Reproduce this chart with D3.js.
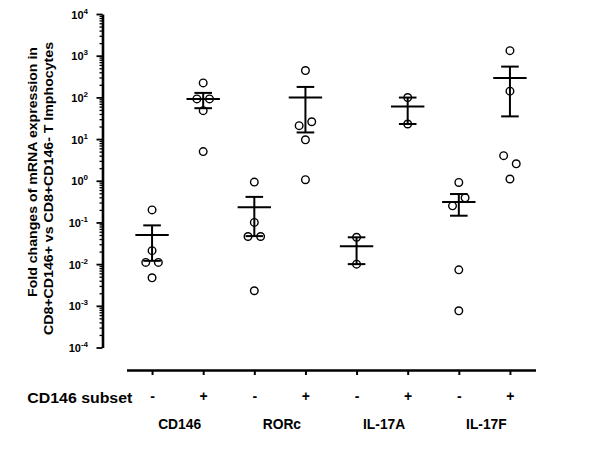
<!DOCTYPE html>
<meta charset="utf-8">
<style>
    body { margin: 0; background: #fff; }
    svg { font-family: "Liberation Sans", Arial, sans-serif; font-weight: bold; }
    .axis path, .axis line { stroke: #000; }
    .axis text { fill: #000; font-family: "Liberation Sans", Arial, sans-serif; font-weight: bold; }
    .dot { fill: none; stroke: #000; stroke-width: 1.4px; }
    .bar { stroke: #000; stroke-width: 2px; }
</style>
<body>
<script src="https://d3js.org/d3.v7.min.js"></script>
<script>
    // genes, subsets and one cell per (gene, subset)
    var groups = ["CD146", "RORc", "IL-17A", "IL-17F"];
    var subsets = ["-", "+"];

    // fold changes per cell
    var cd146Neg = [0.20, 0.021, 0.011, 0.011, 0.0047];
    var cd146Pos = [222, 92, 92, 48, 5.0];
    var rorcNeg = [0.93, 0.10, 0.046, 0.046, 0.0023];
    var rorcPos = [440, 21, 26, 9.6, 1.06];
    var il17aNeg = [0.044, 0.010];
    var il17aPos = [99, 23];
    var il17fNeg = [0.91, 0.25, 0.39, 0.0073, 0.00076];
    var il17fPos = [1320, 141, 4.0, 2.55, 1.1];

    // mean and SEM bounds per cell
    var means = [0.050, 92, 0.23, 99, 0.027, 60, 0.31, 293];
    var semLow = [0.012, 55, 0.047, 14.4, 0.010, 23, 0.145, 35];
    var semHigh = [0.085, 128, 0.41, 178, 0.044, 99, 0.48, 547];

    var yTickExps = [-4, -3, -2, -1, 0, 1, 2, 3, 4];

    var width = 601,
        height = 459;

    var cellValues = [cd146Neg, cd146Pos, rorcNeg, rorcPos, il17aNeg, il17aPos, il17fNeg, il17fPos];
    var cells = [];
    groups.forEach(function (g) {
        subsets.forEach(function (s) { cells.push(g + " " + s); });
    });

    var svg = d3.select("body").append("svg")
        .attr("width", width)
        .attr("height", height);

    var x = d3.scalePoint()
        .domain(cells)
        .range([126.5, 535.5])
        .padding(0.5);

    var y = d3.scaleLog()
        .domain([1e-4, 1e4])
        .range([347.5, 14]);

    // y axis: major decades + minor ticks
    var majors = yTickExps.map(function (e) { return Math.pow(10, e); });
    var minors = [];
    yTickExps.slice(0, -1).forEach(function (e) {
        for (var k = 2; k < 10; k++) minors.push(k * Math.pow(10, e));
    });

    var yAxisX = 102.5;
    svg.append("g")
        .attr("class", "axis")
        .attr("transform", "translate(" + yAxisX + ",0)")
        .call(d3.axisLeft(y).tickValues(minors).tickSize(3).tickSizeOuter(0).tickFormat(""))
        .call(function (g) {
            g.select(".domain").remove();
            g.selectAll("line").attr("stroke-width", 1.3);
        });

    svg.append("g")
        .attr("class", "axis")
        .attr("transform", "translate(" + yAxisX + ",0)")
        .call(d3.axisLeft(y).tickValues(majors).tickSize(6).tickSizeOuter(0).tickFormat(""))
        .call(function (g) {
            g.select(".domain").attr("stroke-width", 2.6);
            g.selectAll("line").attr("stroke-width", 1.8);
        });

    var yLab = svg.append("g")
        .selectAll("text")
        .data(yTickExps)
        .enter().append("text")
        .attr("x", 88)
        .attr("y", function (d) { return y(Math.pow(10, d)) + 4.5; })
        .attr("text-anchor", "end")
        .attr("font-size", 11);
    yLab.append("tspan").text("10");
    yLab.append("tspan")
        .attr("dy", -5)
        .attr("font-size", 8)
        .text(function (d) { return String(d); });

    // y title
    svg.append("text")
        .attr("transform", "translate(32,172) rotate(-90)")
        .attr("dy", "0.35em")
        .attr("text-anchor", "middle")
        .attr("font-size", 13)
        .attr("textLength", 250)
        .attr("lengthAdjust", "spacingAndGlyphs")
        .text("Fold changes of mRNA  expression in");
    svg.append("text")
        .attr("transform", "translate(48.5,188.5) rotate(-90)")
        .attr("dy", "0.35em")
        .attr("text-anchor", "middle")
        .attr("font-size", 13)
        .attr("textLength", 293)
        .attr("lengthAdjust", "spacingAndGlyphs")
        .text("CD8+CD146+ vs CD8+CD146- T lmphocytes");

    // bottom axis with the subset signs
    svg.append("g")
        .attr("class", "axis")
        .attr("transform", "translate(0,370)")
        .call(d3.axisBottom(x).tickSize(5).tickSizeOuter(0).tickPadding(16)
            .tickFormat(function (d) { return d.split(" ")[1]; }))
        .call(function (g) {
            g.select(".domain").attr("stroke-width", 2.6);
            g.selectAll("line").attr("stroke-width", 2);
            g.selectAll("text").attr("font-size", 14);
        });

    svg.append("text")
        .attr("x", 27.3)
        .attr("y", 402.5)
        .attr("font-size", 14)
        .attr("textLength", 105)
        .attr("lengthAdjust", "spacingAndGlyphs")
        .text("CD146 subset");

    svg.append("g")
        .selectAll("text")
        .data(groups)
        .enter().append("text")
        .attr("x", function (g) { return (x(g + " -") + x(g + " +")) / 2 + 2; })
        .attr("y", 428.5)
        .attr("text-anchor", "middle")
        .attr("font-size", 13.8)
        .text(function (g) { return g; });

    // simple beeswarm: points closer than one diameter share a row
    var rowGap = 9, spread = 12.6;
    function swarm(vals) {
        var idx = vals.map(function (v, i) { return i; })
            .sort(function (a, b) { return y(vals[a]) - y(vals[b]); });
        var rows = [], row = [];
        idx.forEach(function (i) {
            if (row.length && y(vals[i]) - y(vals[row[row.length - 1]]) >= rowGap) {
                rows.push(row); row = [];
            }
            row.push(i);
        });
        if (row.length) rows.push(row);
        var off = [];
        rows.forEach(function (r) {
            r.sort(function (a, b) { return a - b; });
            r.forEach(function (i, k) { off[i] = (k - (r.length - 1) / 2) * spread; });
        });
        return vals.map(function (v, i) { return { v: v, dx: off[i] }; });
    }

    var cellG = svg.append("g")
        .selectAll("g")
        .data(cells)
        .enter().append("g")
        .attr("transform", function (d) { return "translate(" + x(d) + ",0)"; });

    // SEM whisker, caps and mean line
    cellG.append("line").attr("class", "bar")
        .attr("y1", function (d, i) { return y(semLow[i]); })
        .attr("y2", function (d, i) { return y(semHigh[i]); });
    cellG.append("line").attr("class", "bar")
        .attr("x1", -8.8).attr("x2", 8.8)
        .attr("y1", function (d, i) { return y(semHigh[i]); })
        .attr("y2", function (d, i) { return y(semHigh[i]); });
    cellG.append("line").attr("class", "bar")
        .attr("x1", -8.8).attr("x2", 8.8)
        .attr("y1", function (d, i) { return y(semLow[i]); })
        .attr("y2", function (d, i) { return y(semLow[i]); });
    cellG.append("line").attr("class", "bar")
        .attr("x1", -16.7).attr("x2", 16.7)
        .attr("y1", function (d, i) { return y(means[i]); })
        .attr("y2", function (d, i) { return y(means[i]); });

    cellG.selectAll("circle")
        .data(function (d, i) { return swarm(cellValues[i]); })
        .enter().append("circle")
        .attr("class", "dot")
        .attr("cx", function (p) { return p.dx; })
        .attr("cy", function (p) { return y(p.v); })
        .attr("r", 3.8);
</script>
</body>
